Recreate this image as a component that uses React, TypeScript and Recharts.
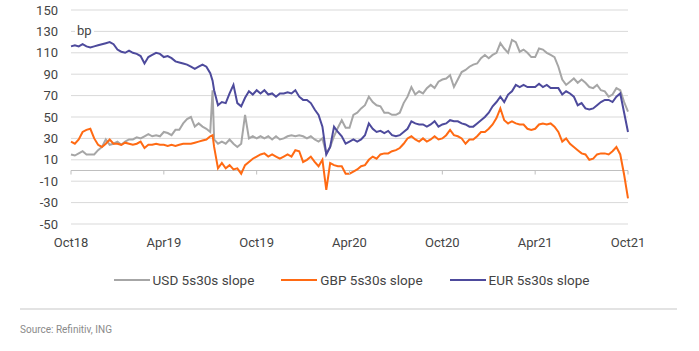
import { LineChart, Line, XAxis, YAxis, CartesianGrid, ReferenceLine } from "recharts";

// Months since Oct 2018, quarter-month steps (plus one point on the Jul-19 spike)
const months = [
  0, 0.25, 0.5, 0.75, 1, 1.25, 1.5, 1.75, 2, 2.25, 2.5, 2.75,
  3, 3.25, 3.5, 3.75, 4, 4.25, 4.5, 4.75, 5, 5.25, 5.5, 5.75,
  6, 6.25, 6.5, 6.75, 7, 7.25, 7.5, 7.75, 8, 8.25, 8.5, 8.75,
  9, 9.15, 9.25, 9.5, 9.75, 10, 10.25, 10.5, 10.75, 11, 11.25, 11.5, 11.75,
  12, 12.25, 12.5, 12.75, 13, 13.25, 13.5, 13.75, 14, 14.25, 14.5, 14.75,
  15, 15.25, 15.5, 15.75, 16, 16.25, 16.5, 16.75, 17, 17.25, 17.5, 17.75,
  18, 18.25, 18.5, 18.75, 19, 19.25, 19.5, 19.75, 20, 20.25, 20.5, 20.75,
  21, 21.25, 21.5, 21.75, 22, 22.25, 22.5, 22.75, 23, 23.25, 23.5, 23.75,
  24, 24.25, 24.5, 24.75, 25, 25.25, 25.5, 25.75, 26, 26.25, 26.5, 26.75,
  27, 27.25, 27.5, 27.75, 28, 28.25, 28.5, 28.75, 29, 29.25, 29.5, 29.75,
  30, 30.25, 30.5, 30.75, 31, 31.25, 31.5, 31.75, 32, 32.25, 32.5, 32.75,
  33, 33.25, 33.5, 33.75, 34, 34.25, 34.5, 34.75, 35, 35.25, 35.5, 35.75,
  36,
];

const usdSlope = [
  15, 14, 16, 18, 15, 15, 15, 19, 22, 29, 24, 25,
  27, 24, 27, 29, 29, 31, 30, 32, 34, 32, 33, 32,
  36, 35, 33, 38, 38, 44, 48, 50, 41, 44, 41, 39,
  36, 75, 29, 25, 27, 25, 29, 25, 22, 25, 52, 30, 32,
  30, 32, 30, 32, 29, 32, 29, 30, 32, 33, 32, 33,
  32, 30, 32, 29, 27, 30, 16, 22, 32, 40, 47, 40,
  40, 52, 54, 58, 61, 69, 64, 61, 60, 54, 54, 52,
  52, 54, 63, 69, 78, 71, 74, 72, 77, 80, 77, 83,
  85, 86, 89, 78, 85, 92, 94, 97, 99, 100, 105, 108,
  105, 108, 110, 119, 114, 110, 122, 120, 111, 113, 110, 106,
  106, 114, 113, 110, 108, 106, 97, 85, 80, 83, 86, 82,
  85, 82, 78, 77, 80, 75, 74, 69, 71, 77, 75, 64,
  55,
];

const gbpSlope = [
  27, 25, 29, 36, 38, 39, 30, 24, 22, 25, 29, 25,
  25, 24, 26, 25, 24, 25, 27, 21, 24, 24, 25, 24,
  24, 23, 24, 23, 24, 25, 25, 25, 26, 27, 28, 29,
  32, 33, 22, 2, 7, 2, 5, 1, 2, -3, 5, 8, 11,
  13, 15, 16, 13, 15, 13, 11, 13, 15, 13, 19, 18,
  8, 10, 13, 8, 4, 10, -18, 7, 5, 4, 4, -3,
  -3, -1, 1, 4, 5, 10, 13, 11, 15, 16, 16, 18,
  19, 21, 25, 30, 32, 29, 27, 30, 27, 29, 32, 29,
  30, 33, 38, 33, 32, 30, 25, 29, 29, 32, 36, 36,
  39, 43, 49, 58, 47, 44, 46, 44, 43, 43, 39, 38,
  39, 43, 44, 43, 44, 41, 36, 27, 30, 25, 22, 19,
  16, 15, 10, 11, 15, 16, 16, 15, 18, 22, 15, -4,
  -26,
];

const eurSlope = [
  116, 117, 116, 118, 116, 115, 116, 117, 118, 119, 120, 118,
  113, 111, 110, 112, 110, 109, 107, 100, 106, 108, 110, 109,
  106, 107, 105, 102, 101, 100, 99, 97, 95, 97, 99, 97,
  91, 84, 75, 61, 64, 63, 72, 80, 63, 60, 68, 74, 71,
  75, 72, 75, 71, 72, 69, 72, 72, 73, 72, 75, 69,
  66, 66, 63, 57, 52, 41, 15, 22, 41, 36, 32, 25,
  27, 29, 27, 29, 33, 44, 39, 36, 37, 35, 37, 33,
  32, 33, 36, 39, 46, 44, 43, 43, 41, 43, 46, 41,
  43, 44, 47, 46, 46, 44, 43, 41, 41, 44, 47, 50,
  54, 60, 64, 69, 64, 71, 74, 80, 78, 80, 78, 78,
  78, 81, 78, 80, 77, 77, 77, 71, 74, 72, 69, 61,
  63, 58, 57, 58, 61, 64, 66, 66, 64, 69, 72, 54,
  36,
];

const tickMonths = [0, 6, 12, 18, 24, 30, 36];
const tickLabels = ["Oct18", "Apr19", "Oct19", "Apr20", "Oct20", "Apr21", "Oct21"];
const yTicks = [-50, -30, -10, 10, 30, 50, 70, 90, 110, 130, 150];

const series = [
  { key: "usd", name: "USD 5s30s slope", color: "#a6a6a6" },
  { key: "gbp", name: "GBP 5s30s slope", color: "#ff6a13" },
  { key: "eur", name: "EUR 5s30s slope", color: "#4d4a9c" },
];

const data = months.map((m, i) => ({
  m,
  usd: usdSlope[i],
  gbp: gbpSlope[i],
  eur: eurSlope[i],
}));

const FONT = "Roboto, 'Liberation Sans', sans-serif";
const PLOT_TOP = 10;
const PLOT_H = 214;
const Y_MIN = -50;
const Y_MAX = 150;
// distance from plot bottom up to the zero line, where the date ticks sit
const ZERO_UP = (PLOT_H * (0 - Y_MIN)) / (Y_MAX - Y_MIN);

function DateTick(props: any) {
  const { x, y, payload } = props;
  const idx = tickMonths.indexOf(payload.value);
  return (
    <g>
      <line x1={x} x2={x} y1={y - ZERO_UP} y2={y - ZERO_UP + 4} stroke="#bfbfbf" />
      <text x={x} y={y + 23} textAnchor="middle" fontSize={13} fill="#444" fontFamily={FONT}>
        {tickLabels[idx]}
      </text>
    </g>
  );
}

export default function App() {
  return (
    <div
      style={{
        position: "absolute",
        left: 0,
        top: 0,
        width: 699,
        height: 351,
        background: "#fff",
        fontFamily: FONT,
      }}
    >
      <LineChart
        width={699}
        height={260}
        data={data}
        margin={{ top: PLOT_TOP, right: 71, bottom: 0, left: 0 }}
      >
        <CartesianGrid stroke="#d9d9d9" vertical={false} />
        <XAxis
          dataKey="m"
          type="number"
          domain={[0, 36]}
          ticks={tickMonths}
          interval={0}
          axisLine={false}
          tickLine={false}
          tickSize={0}
          tickMargin={0}
          height={36}
          tick={<DateTick />}
        />
        <YAxis
          domain={[Y_MIN, Y_MAX]}
          ticks={yTicks}
          interval={0}
          axisLine={false}
          tickLine={false}
          tickSize={0}
          tickMargin={13}
          width={71}
          tick={{ fontSize: 13, fill: "#444", fontFamily: FONT }}
        />
        <ReferenceLine y={0} stroke="#bfbfbf" />
        {series.map((s) => (
          <Line
            key={s.key}
            dataKey={s.key}
            name={s.name}
            stroke={s.color}
            strokeWidth={2}
            dot={false}
            type="linear"
            isAnimationActive={false}
          />
        ))}
      </LineChart>

      <span
        style={{
          position: "absolute",
          left: 75,
          top: 23,
          fontSize: 13,
          color: "#444",
          background: "#fff",
          padding: "0 2px",
        }}
      >
        bp
      </span>

      {/* legend */}
      <div
        style={{
          position: "absolute",
          top: 272,
          left: 0,
          width: 699,
          display: "flex",
          justifyContent: "center",
          gap: 27,
          fontSize: 13.5,
          color: "#444",
          paddingLeft: 2,
        }}
      >
        {series.map((s) => (
          <div key={s.key} style={{ display: "flex", alignItems: "center" }}>
            <span
              style={{
                display: "inline-block",
                width: 36,
                height: 2,
                background: s.color,
                marginRight: 3,
              }}
            />
            <span>{s.name}</span>
          </div>
        ))}
      </div>

      <div
        style={{
          position: "absolute",
          left: 20,
          top: 308,
          width: 657,
          height: 2,
          background: "#e3e3e3",
        }}
      />
      <div
        style={{
          position: "absolute",
          left: 20,
          top: 324,
          fontSize: 10,
          color: "#8a8a8a",
        }}
      >
        Source: Refinitiv, ING
      </div>
    </div>
  );
}
